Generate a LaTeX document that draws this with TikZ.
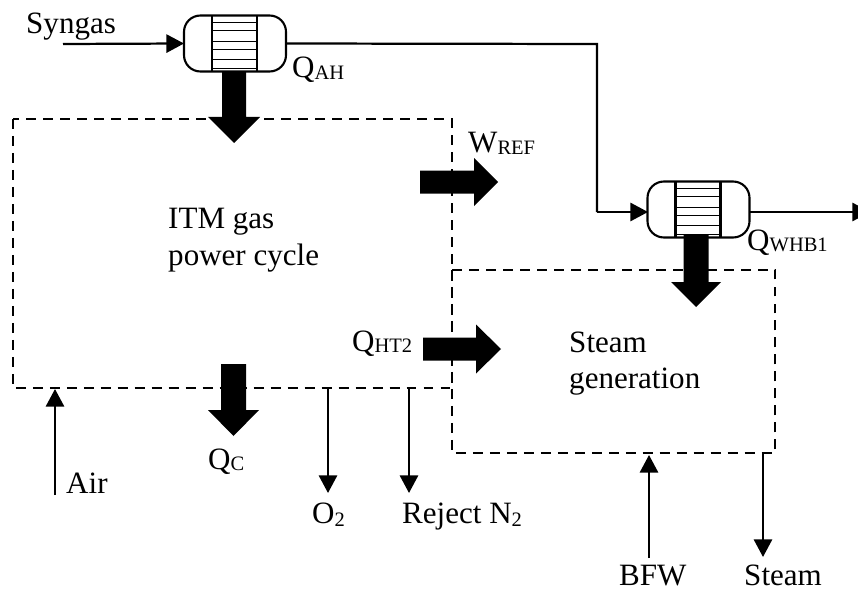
\documentclass[tikz,border=0pt]{standalone}
\usepackage{fontspec}
\setmainfont{Liberation Serif}
\usetikzlibrary{arrows.meta}
\tikzset{
  hxbox/.style={draw,line width=1.8pt,rounded corners=14pt,
    minimum width=102*0.03cm,minimum height=56*0.03cm,inner sep=0pt,outer sep=0pt},
  stream/.style={line width=1.9pt,-{Triangle[length=15pt,width=15.5pt]}},
  plainline/.style={line width=1.9pt},
  dashbox/.style={line width=1.9pt,dash pattern=on 8.5pt off 6pt},
  lbl/.style={inner sep=0pt,anchor=base west,font=\fontsize{26.5}{31.5}\selectfont}
}
\newcommand\Sb[1]{\raisebox{-1pt}{\fontsize{17.5}{19}\selectfont #1}}
\newcommand\Sn[1]{\raisebox{-3pt}{\fontsize{17.5}{19}\selectfont #1}}
% tube bundle of an exchanger, #1 is the node
\newcommand\HXtubes[1]{
  \draw[line width=1.8pt] ([xshift=-23*0.03cm]#1.north) -- ([xshift=-23*0.03cm]#1.south);
  \draw[line width=1.8pt] ([xshift=22*0.03cm]#1.north) -- ([xshift=22*0.03cm]#1.south);
  \foreach \y in {-21,-13,-2,6,16,25}
  {
    \draw[line width=1.3pt] ([xshift=-23*0.03cm,yshift=-\y*0.03cm]#1.center) -- ([xshift=22*0.03cm,yshift=-\y*0.03cm]#1.center);
  }
}
% fat heat arrow: #1 start, #2 angle, #3 length, #4 shaft half width, #5 head half width, #6 head length
\newcommand\HeatArrow[6]{
  \fill[shift={#1},rotate=#2] (0,-#4) -- (#3-#6,-#4) -- (#3-#6,-#5) -- (#3,0)
    -- (#3-#6,#5) -- (#3-#6,#4) -- (0,#4) -- cycle;
}
\begin{document}
\begin{tikzpicture}[x=0.03cm,y=-0.03cm]
\useasboundingbox (0,0) rectangle (858,591);

% cycle boxes
\draw[dashbox] (13,119) rectangle (452,388);
\draw[dashbox] (452,270) rectangle (775,453);

\node[hxbox] (hxah) at (235,43.5) {};
\node[hxbox] (hxwhb) at (698.5,209.5) {};
\HXtubes{hxah}
\HXtubes{hxwhb}

\coordinate (syngasin) at (63,44);
\coordinate (bendtop) at (597,44);
\coordinate (bendlow) at (597,212);
\coordinate (whbin) at (648,212);
\coordinate (whbout) at (749,212);
\coordinate (whbend) at (870,212);
\coordinate (airin) at (55,495);
\coordinate (airend) at (55,389);
\coordinate (otwostart) at (328,388);
\coordinate (otwoend) at (328,493);
\coordinate (rejstart) at (409,388);
\coordinate (rejend) at (409,493);
\coordinate (bfwin) at (649,558);
\coordinate (bfwend) at (649,455);
\coordinate (steamstart) at (763,453);
\coordinate (steamend) at (763,557);

\draw[stream] (syngasin) -- (hxah.west);
\draw[plainline] (hxah.east) -- (bendtop) -- (bendlow);
\draw[stream] (bendlow) -- (whbin);
\draw[stream] (whbout) -- (whbend);
\draw[stream] (airin) -- (airend);
\draw[stream] (otwostart) -- (otwoend);
\draw[stream] (rejstart) -- (rejend);
\draw[stream] (bfwin) -- (bfwend);
\draw[stream] (steamstart) -- (steamend);

\HeatArrow{(234,72)}{-90}{71}{12}{26}{26}
\HeatArrow{(696,235)}{-90}{72}{12.5}{25}{25}
\HeatArrow{(420,182)}{0}{78}{11.5}{24}{24}
\HeatArrow{(423,349)}{0}{78}{11.5}{24.5}{25}
\HeatArrow{(233.5,364)}{-90}{72}{12.5}{25.5}{26}

\node[lbl] (syngas) at (26,34) {Syngas};
\node[lbl] (qah) at (292,78) {Q\Sb{AH}};
\node[lbl] (wref) at (468,153) {W\Sb{REF}};
\node[lbl] (qwhb) at (747,250) {Q\Sb{WHB1}};
\node[lbl] (itm) at (168,228) {ITM gas};
\node[lbl] (pcycle) at (168,265) {power cycle};
\node[lbl] (qht) at (352,351) {Q\Sb{HT2}};
\node[lbl] (steamtxt) at (569,352) {Steam};
\node[lbl] (gentxt) at (569,388) {generation};
\node[lbl] (qc) at (208,469) {Q\Sb{C}};
\node[lbl] (air) at (66,493) {Air};
\node[lbl] (otwo) at (312,523) {O\Sn{2}};
\node[lbl] (rejn) at (402,523) {Reject N\Sn{2}};
\node[lbl] (bfw) at (619,585) {BFW};
\node[lbl] (steam) at (744,585) {Steam};
\end{tikzpicture}
\end{document}
